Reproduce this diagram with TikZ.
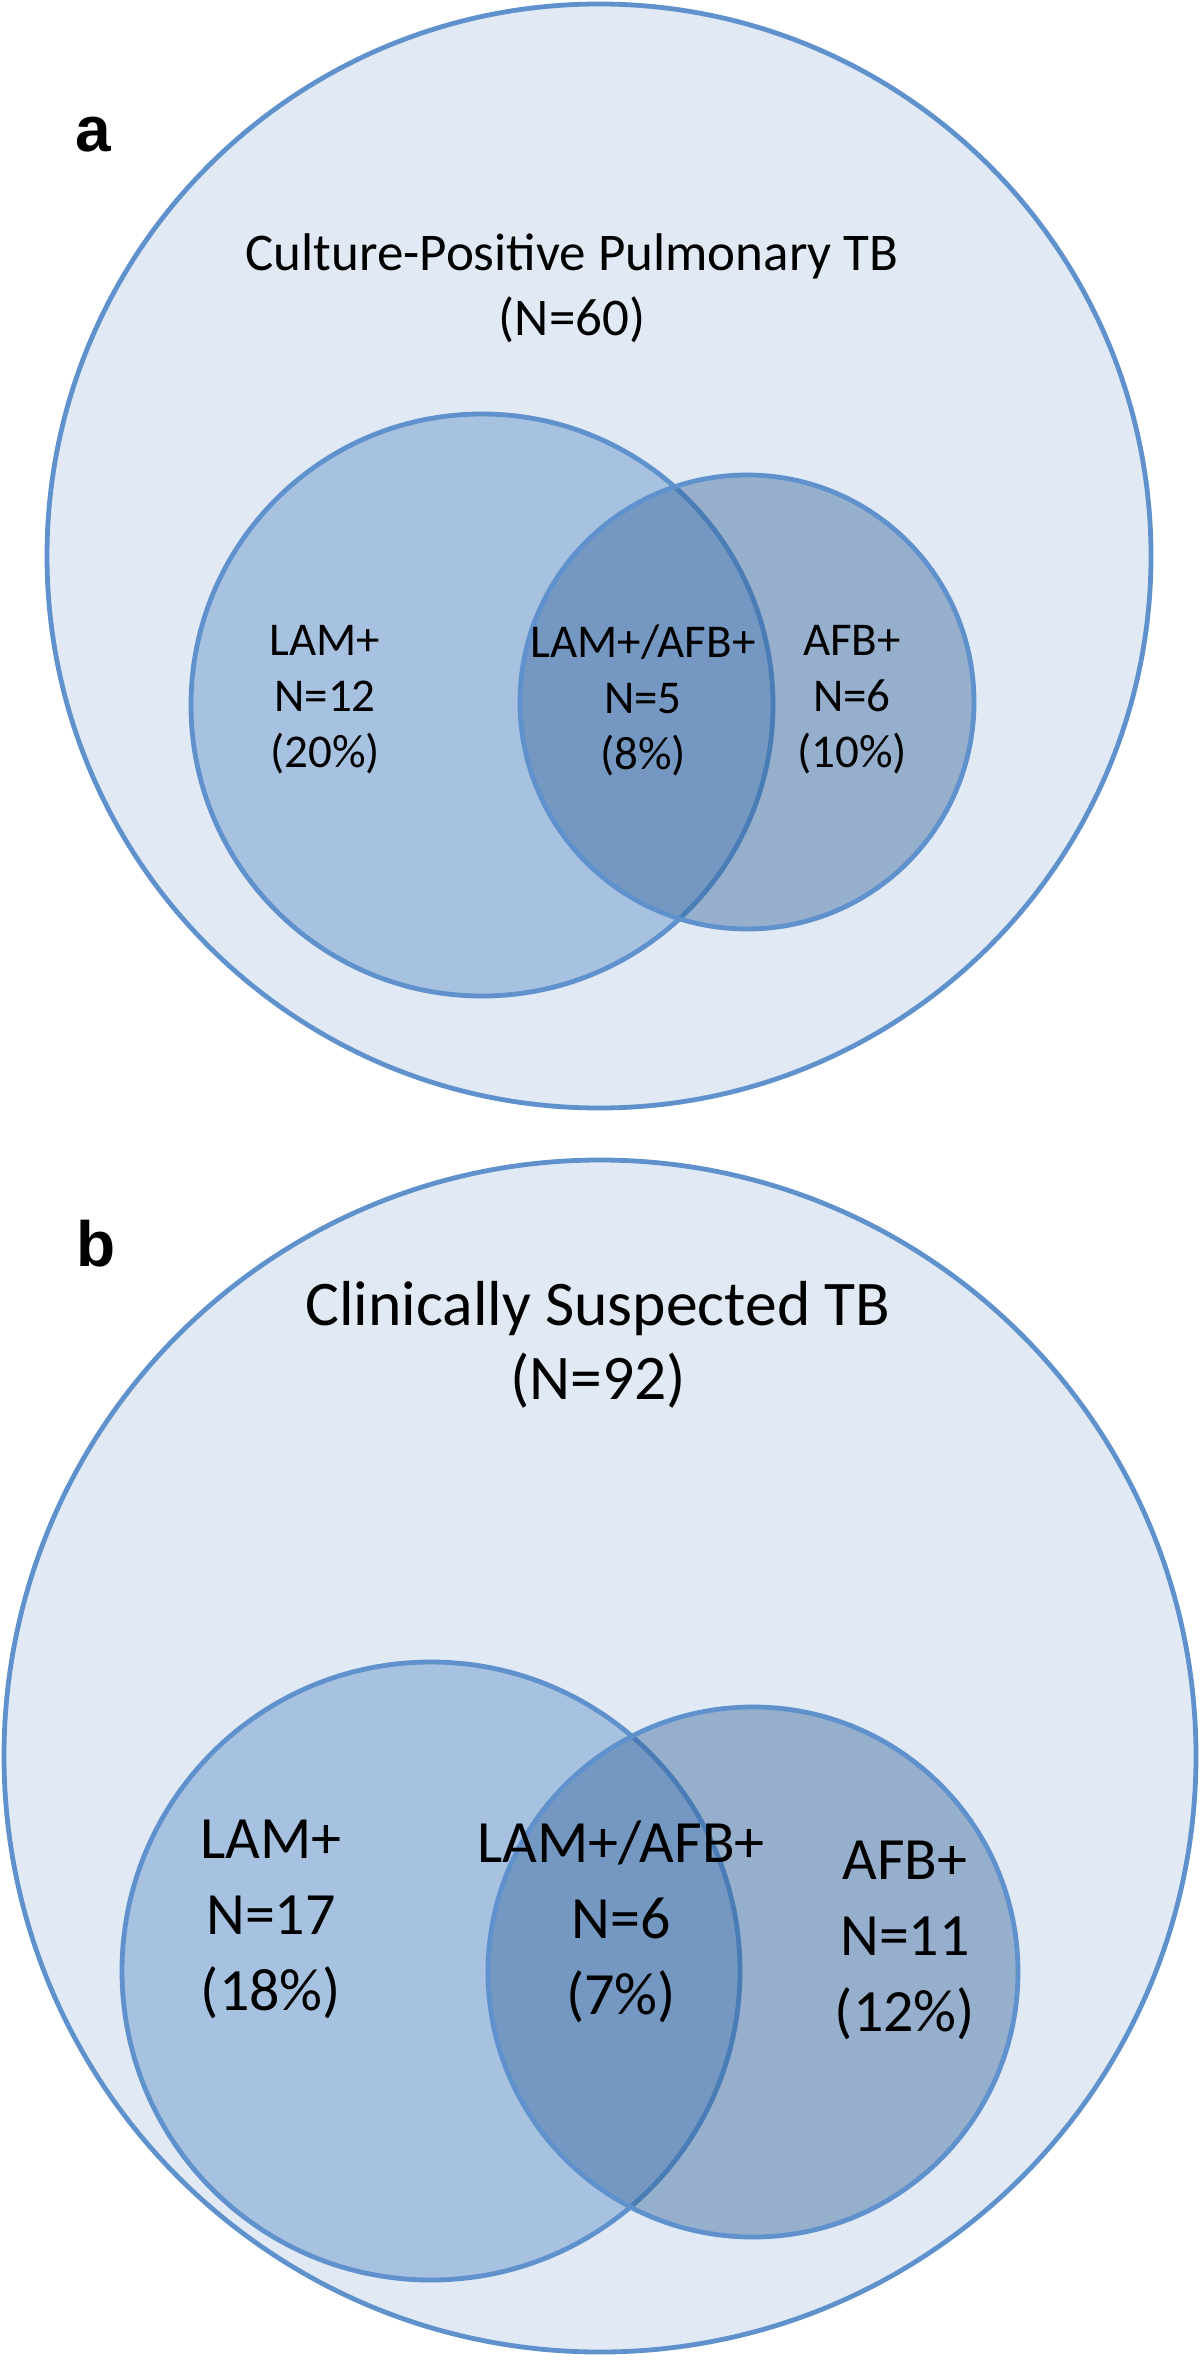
\documentclass[tikz,border=0pt]{standalone}
\usepackage{fontspec}
\setmainfont{Carlito}
\newfontfamily\panelfont{Liberation Sans}
\usetikzlibrary{positioning}
\definecolor{outerfill}{HTML}{E0E9F4}
\definecolor{lamfill}{HTML}{A7C1E0}
\definecolor{afbfill}{HTML}{2E6198}
\definecolor{ringline}{HTML}{5F91CC}
\tikzset{
  outer/.style={circle, draw=ringline, line width=2.4pt, fill=outerfill, inner sep=0pt},
  lamset/.style={circle, draw=ringline, line width=2.4pt, fill=lamfill, inner sep=0pt},
  afbset/.style={circle, draw=ringline, line width=2.4pt, fill=afbfill, fill opacity=0.42, draw opacity=1, inner sep=0pt},
  panel/.style={font=\panelfont\bfseries\fontsize{32}{38}\selectfont, inner sep=0pt},
  titleA/.style={align=center, font=\fontsize{26.5}{32.5}\selectfont},
  countA/.style={align=center, font=\fontsize{23.5}{28}\selectfont},
  titleB/.style={align=center, font=\fontsize{31.8}{37}\selectfont},
  countB/.style={align=center, font=\fontsize{30}{38}\selectfont}
}
\begin{document}
\begin{tikzpicture}[x=0.5pt, y=-0.5pt]
    \useasboundingbox (0,0) rectangle (1200,2365);

    \node[outer, minimum size=552pt] (culture) at (599,556) {};
    \node[lamset, minimum size=291pt] (lamA) at (482,705) {};
    \node[afbset, minimum size=227pt] (afbA) at (747,702) {};

    \node[panel] (labelA) at (93,135) {a};
    \node[titleA] (headA) at (572,288) {Culture-Positive Pulmonary TB\\(N=60)};
    \node[countA] (onlyLamA) at (325,700) {LAM+\\N=12\\(20\%)};
    \node[countA] (bothA) at (643,700) {LAM+/AFB+\\N=5\\(8\%)};
    \node[countA] (onlyAfbA) at (852,700) {AFB+\\N=6\\(10\%)};

    \node[outer, minimum size=596pt] (clinical) at (600,1756) {};
    \node[lamset, minimum size=309pt] (lamB) at (431,1971) {};
    \node[afbset, minimum size=265pt] (afbB) at (753,1972) {};

    \node[panel] (labelB) at (96,1244) {b};
    \node[titleB] (headB) at (598,1345) {Clinically Suspected TB\\(N=92)};
    \node[countB] (onlyLamB) at (271,1919) {LAM+\\N=17\\(18\%)};
    \node[countB] (bothB) at (621,1922) {LAM+/AFB+\\N=6\\(7\%)};
    \node[countB] (onlyAfbB) at (905,1940) {AFB+\\N=11\\(12\%)};
\end{tikzpicture}
\end{document}
